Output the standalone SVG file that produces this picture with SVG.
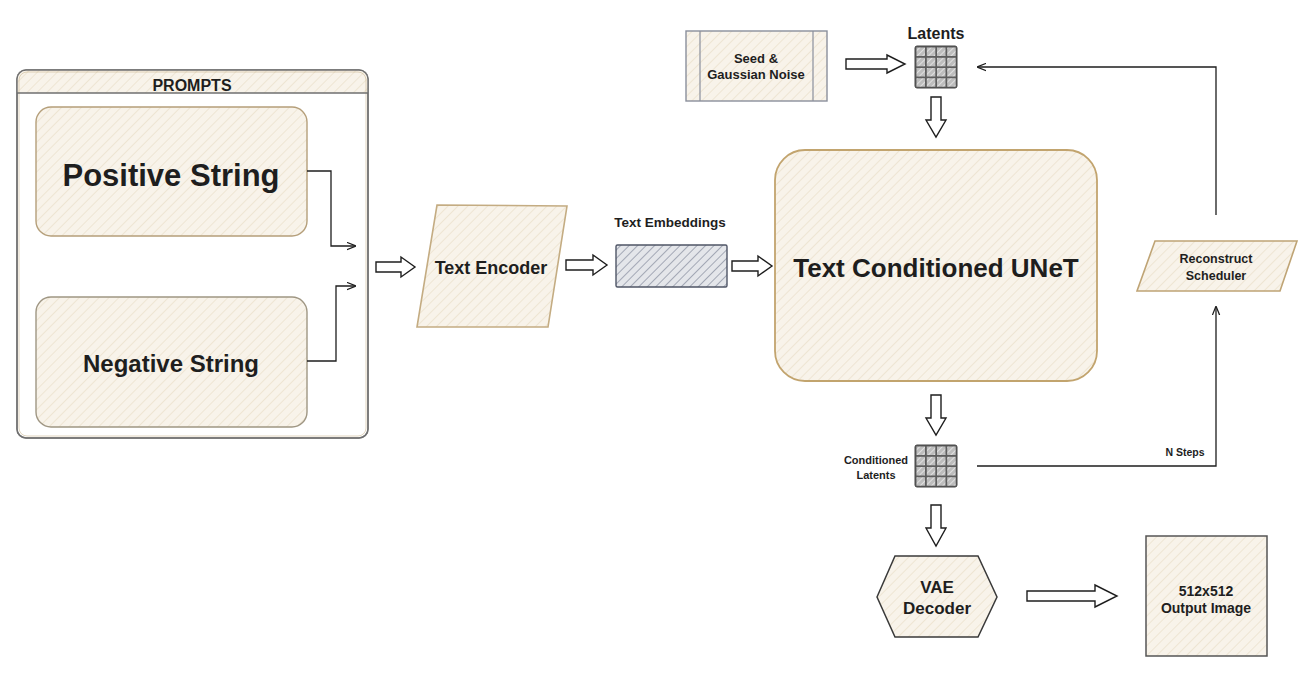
<svg xmlns="http://www.w3.org/2000/svg" width="1313" height="673" viewBox="0 0 1313 673">
<style>
text{font-family:"Liberation Sans",Arial,sans-serif;font-weight:bold;fill:#1e1e1e;text-anchor:middle}
.blk{fill:#fff;stroke:#1e1e1e;stroke-width:1.4;stroke-linejoin:miter}
.con{fill:none;stroke:#1e1e1e;stroke-width:1.3}
.beige{fill:url(#hb)}
</style>
<defs>
<pattern id="hb" width="7" height="7" patternUnits="userSpaceOnUse" patternTransform="rotate(45)">
<rect width="7" height="7" fill="#f8f3ea"/>
<line x1="0" y1="0" x2="0" y2="7" stroke="#ebdfca" stroke-width="1.4"/>
</pattern>
<pattern id="hg" width="6" height="6" patternUnits="userSpaceOnUse" patternTransform="rotate(45)">
<rect width="6" height="6" fill="#e4e6ea"/>
<line x1="0" y1="0" x2="0" y2="6" stroke="#8d93a3" stroke-width="1.5"/>
</pattern>
<pattern id="hc" width="4" height="4" patternUnits="userSpaceOnUse" patternTransform="rotate(45)">
<rect width="4" height="4" fill="#bdbdbd"/>
<line x1="0" y1="0" x2="0" y2="4" stroke="#f2f2f2" stroke-width="1.3"/>
</pattern>
<marker id="ah" viewBox="0 0 10 10" refX="9" refY="5" markerWidth="9" markerHeight="9" orient="auto" markerUnits="userSpaceOnUse">
<path d="M0,1 L10,5 L0,9" fill="none" stroke="#1e1e1e" stroke-width="1.4"/>
</marker>
<g id="grid">
<rect x="0" y="0" width="42" height="42" rx="2" fill="#5e5e5e" stroke="#444" stroke-width="1"/>
<g fill="url(#hc)">
<rect x="1.5" y="1.5" width="8.5" height="8.5"/><rect x="11.8" y="1.5" width="8.5" height="8.5"/><rect x="22" y="1.5" width="8.5" height="8.5"/><rect x="32.2" y="1.5" width="8.5" height="8.5"/>
<rect x="1.5" y="11.8" width="8.5" height="8.5"/><rect x="11.8" y="11.8" width="8.5" height="8.5"/><rect x="22" y="11.8" width="8.5" height="8.5"/><rect x="32.2" y="11.8" width="8.5" height="8.5"/>
<rect x="1.5" y="22" width="8.5" height="8.5"/><rect x="11.8" y="22" width="8.5" height="8.5"/><rect x="22" y="22" width="8.5" height="8.5"/><rect x="32.2" y="22" width="8.5" height="8.5"/>
<rect x="1.5" y="32.2" width="8.5" height="8.5"/><rect x="11.8" y="32.2" width="8.5" height="8.5"/><rect x="22" y="32.2" width="8.5" height="8.5"/><rect x="32.2" y="32.2" width="8.5" height="8.5"/>
</g>
</g>
</defs>
<rect width="1313" height="673" fill="#fff"/>

<g id="prompts">
<rect x="17" y="70" width="351" height="368" rx="9" fill="#fff" stroke="#8a8a8a" stroke-width="1.6"/>
<path d="M17,93 V79 Q17,70 26,70 H359 Q368,70 368,79 V93 Z" class="beige"/>
<rect x="17" y="70" width="351" height="368" rx="9" fill="none" stroke="#6f6f6f" stroke-width="1.4"/>
<rect x="19" y="72" width="347" height="364" rx="8" fill="none" stroke="#c9b58e" stroke-width="0.8" opacity="0.7"/>
<line x1="17" y1="93" x2="368" y2="93" stroke="#6f6f6f" stroke-width="1.3"/>
<text x="192" y="91" font-size="16">PROMPTS</text>
</g>

<g id="positive">
<rect x="36" y="107" width="271" height="129" rx="15" class="beige" stroke="#b59f7a" stroke-width="1.4"/>
<text x="171" y="186" font-size="31">Positive String</text>
</g>

<g id="negative">
<rect x="36" y="297" width="271" height="130" rx="15" class="beige" stroke="#9f9683" stroke-width="1.4"/>
<text x="171" y="372" font-size="24">Negative String</text>
</g>

<g id="text-encoder">
<polygon points="437,205 567,206 548,327 417,327" class="beige" stroke="#c4ac82" stroke-width="1.6"/>
<text x="491" y="274" font-size="18">Text Encoder</text>
</g>

<g id="text-embeddings">
<text x="670" y="227" font-size="13.5">Text Embeddings</text>
<rect x="616" y="245" width="111" height="42" rx="1.5" fill="url(#hg)" stroke="#4f5566" stroke-width="1.4"/>
</g>

<g id="unet">
<rect x="775" y="150" width="322" height="231" rx="30" class="beige" stroke="#c2a46e" stroke-width="1.8"/>
<text x="936" y="277" font-size="26">Text Conditioned UNeT</text>
</g>

<g id="seed">
<rect x="686" y="31" width="141" height="70" class="beige" stroke="#8a8f9c" stroke-width="1.4"/>
<line x1="700" y1="31" x2="700" y2="101" stroke="#8a8f9c" stroke-width="1.2"/>
<line x1="813" y1="31" x2="813" y2="101" stroke="#8a8f9c" stroke-width="1.2"/>
<text x="756" y="63" font-size="13">Seed &amp;</text>
<text x="756" y="79" font-size="13">Gaussian Noise</text>
</g>

<g id="latents">
<text x="936" y="39" font-size="16">Latents</text>
<use href="#grid" x="915" y="46"/>
</g>

<g id="scheduler">
<polygon points="1155,241 1297,241 1280,291 1137,291" class="beige" stroke="#bfa475" stroke-width="1.6"/>
<text x="1216" y="263" font-size="12.5">Reconstruct</text>
<text x="1216" y="280" font-size="12.5">Scheduler</text>
</g>

<g id="conditioned-latents">
<use href="#grid" x="915" y="445"/>
<text x="876" y="464" font-size="11">Conditioned</text>
<text x="876" y="479" font-size="11">Latents</text>
</g>

<g id="vae">
<polygon points="877,597 895,556 978,556 997,597 978,637 895,637" class="beige" stroke="#3a3a3a" stroke-width="1.5"/>
<text x="937" y="593" font-size="17">VAE</text>
<text x="937" y="614" font-size="17">Decoder</text>
</g>

<g id="output-image">
<rect x="1146" y="536" width="121" height="120" class="beige" stroke="#555" stroke-width="1.5"/>
<text x="1206" y="596" font-size="14">512x512</text>
<text x="1206" y="613" font-size="14">Output Image</text>
</g>

<g id="connectors">
<path class="con" d="M307,171 H331 V246 H355" marker-end="url(#ah)"/>
<path class="con" d="M307,361 H336 V286 H355" marker-end="url(#ah)"/>
<path class="con" d="M1216,215 V67 H978" marker-end="url(#ah)"/>
<path class="con" d="M977,466 H1216 V307" marker-end="url(#ah)"/>
<text x="1185" y="456" font-size="10.5">N Steps</text>
<path class="blk" d="M376,262 H401 V257 L415,267 L401,277 V272 H376 Z"/>
<path class="blk" d="M566,260 H593 V255 L607,265 L593,275 V270 H566 Z"/>
<path class="blk" d="M732,261 H758 V256 L772,266 L758,276 V271 H732 Z"/>
<path class="blk" d="M846,59 H887 V55 L905,64 L887,73 V69 H846 Z"/>
<path class="blk" d="M931,97 V120 H926 L936,137 L946,120 H941 V97 Z"/>
<path class="blk" d="M931,395 V418 H926 L936,435 L946,418 H941 V395 Z"/>
<path class="blk" d="M931,505 V528 H926 L936,546 L946,528 H941 V505 Z"/>
<path class="blk" d="M1027,591 H1095 V585 L1117,596 L1095,607 V601 H1027 Z"/>
</g>
</svg>
